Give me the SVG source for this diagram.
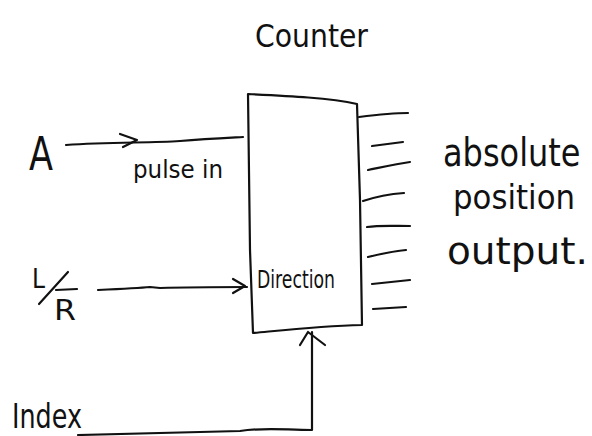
<svg xmlns="http://www.w3.org/2000/svg" width="592" height="436" viewBox="0 0 592 436">
  <style>
    .ink { fill: none; stroke: #111; stroke-width: 2.2; stroke-linecap: round; stroke-linejoin: round; }
    .hand { font-family: "DejaVu Sans", "Liberation Sans", sans-serif; fill: #111; font-weight: normal; }
  </style>
  <rect width="592" height="436" fill="#fff"/>

  <!-- title -->
  <text class="hand" x="255" y="47" font-size="32" textLength="113" lengthAdjust="spacingAndGlyphs">Counter</text>

  <!-- counter block with parallel output lines -->
  <g id="counter">
    <path class="ink" d="M248,94 C290,96 330,98 357,104 L360,200 L362,325 C320,326 285,330 253,333 L250,250 Z"/>
    <text class="hand" x="257" y="288" font-size="24" textLength="78" lengthAdjust="spacingAndGlyphs">Direction</text>
    <path class="ink" d="M359,117 C375,115 392,113 408,113"/>
    <path class="ink" d="M372,146 L403,142"/>
    <path class="ink" d="M368,170 C383,167 397,164 410,162"/>
    <path class="ink" d="M363,201 C375,197 390,194 404,193"/>
    <path class="ink" d="M367,227 C380,225 395,226 410,226"/>
    <path class="ink" d="M368,257 C380,254 394,251 406,250"/>
    <path class="ink" d="M372,284 L410,280"/>
    <path class="ink" d="M373,309 L406,307"/>
  </g>

  <g id="input-a">
    <text class="hand" x="29" y="170" font-size="46" textLength="24" lengthAdjust="spacingAndGlyphs">A</text>
    <text class="hand" x="133" y="178" font-size="25" textLength="90" lengthAdjust="spacingAndGlyphs">pulse in</text>
  </g>

  <g id="input-lr">
    <text class="hand" x="32" y="288" font-size="27" textLength="13" lengthAdjust="spacingAndGlyphs">L</text>
    <path class="ink" d="M39,304 L68,272"/>
    <text class="hand" x="54" y="320" font-size="28" textLength="22" lengthAdjust="spacingAndGlyphs">R</text>
    <path class="ink" d="M56,290 L77,289"/>
  </g>

  <g id="input-index">
    <text class="hand" x="12" y="428" font-size="34" textLength="70" lengthAdjust="spacingAndGlyphs">Index</text>
  </g>

  <g id="output-label">
    <text class="hand" transform="translate(443,166) scale(1,1.2)" font-size="32">absolute</text>
    <text class="hand" x="453" y="209" font-size="34" textLength="122" lengthAdjust="spacingAndGlyphs">position</text>
    <text class="hand" x="447" y="264" font-size="38" textLength="141" lengthAdjust="spacingAndGlyphs">output.</text>
  </g>

  <!-- connectors -->
  <g id="connectors">
    <path class="ink" d="M66,145 C110,142 150,143 180,141 C205,139 225,138 243,137"/>
    <path class="ink" d="M120,134 L137,140 L123,147"/>

    <path class="ink" d="M98,290 C120,289 140,288 150,287 L160,288 C190,287 220,287 247,287"/>
    <path class="ink" d="M233,279 L245,286 L233,293"/>

    <path class="ink" d="M78,435 C140,433 200,432 240,431 C265,427 285,430 312,430 L312,332"/>
    <path class="ink" d="M300,345 L308,332 L325,345"/>
  </g>
</svg>
